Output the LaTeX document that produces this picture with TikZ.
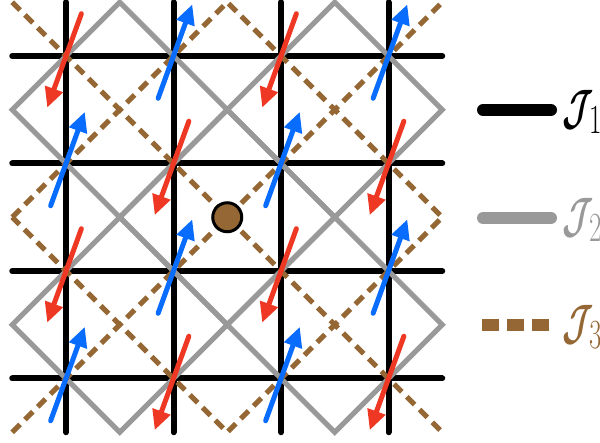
\documentclass[tikz,border=0pt]{standalone}
\usepackage{amsmath}
\usepackage{graphicx}
\usepackage{xcolor}
\usetikzlibrary{arrows.meta}

\definecolor{jgray}{RGB}{153,153,153}
\definecolor{jbrown}{RGB}{148,103,52}
\definecolor{spinred}{RGB}{238,56,36}
\definecolor{spinblue}{RGB}{8,108,255}
\newcommand{\jlab}[1]{\scalebox{0.65}[1]{$\boldsymbol{\mathcal{J}}_{\!#1}$}}

\begin{document}
\begin{tikzpicture}[x=0.5pt, y=-0.5pt, >={Triangle[length=10pt, width=9pt]},
  jone/.style={line width=3pt, line cap=round},
  jtwo/.style={draw=jgray, line width=2.5pt},
  jthree/.style={draw=jbrown, line width=2.5pt, dash pattern=on 5.5pt off 3.5pt},
  spin/.style={->, line width=2.5pt, line cap=round},
  spinup/.style={spin, spinblue}, spindown/.style={spin, spinred},
  dot/.style={circle, draw, line width=1.5pt, fill=jbrown, minimum size=14.5pt, inner sep=0pt},
  lab/.style={anchor=west, inner sep=0pt, font=\fontsize{28}{30}\selectfont}]
\useasboundingbox (0,0) rectangle (600,443);
\foreach \i in {0,...,3} \foreach \j in {0,...,3}
  \coordinate (s-\i-\j) at (66+107.5*\i, 56+107.5*\j);
\foreach \k in {0,...,3} {
  \draw[jone] ([shift={(-53.75,0)}]s-0-\k) -- ([shift={(53.75,0)}]s-3-\k);
  \draw[jone] ([shift={(0,-53.75)}]s-\k-0) -- ([shift={(0,53.75)}]s-\k-3);
}
\foreach \i/\j in {0/0, 2/0, 1/1, 0/2, 2/2}
  \draw[jtwo] ([shift={(-53.75,53.75)}]s-\i-\j) -- ([shift={(53.75,-53.75)}]s-\i-\j)
    -- ([shift={(161.25,53.75)}]s-\i-\j) -- ([shift={(53.75,161.25)}]s-\i-\j) -- cycle;
\draw[jthree] ([shift={(-53.75,-53.75)}]s-0-0) -- ([shift={(53.75,53.75)}]s-3-3);
\draw[jthree] ([shift={(-53.75,53.75)}]s-0-3) -- ([shift={(53.75,-53.75)}]s-3-0);
\draw[jthree] ([shift={(-53.75,53.75)}]s-0-1) -- ([shift={(53.75,-53.75)}]s-1-0)
  -- ([shift={(53.75,53.75)}]s-3-1) -- ([shift={(53.75,53.75)}]s-1-3) -- cycle;
\foreach \i/\j in {0/0, 2/0, 1/1, 3/1, 0/2, 2/2, 1/3, 3/3}
  \draw[spindown] ([shift={(15.4,-42.3)}]s-\i-\j) -- ([shift={(-18.8,51.7)}]s-\i-\j);
\foreach \i/\j in {1/0, 3/0, 0/1, 2/1, 1/2, 3/2, 0/3, 2/3}
  \draw[spinup] ([shift={(-15.4,42.3)}]s-\i-\j) -- ([shift={(18.8,-51.7)}]s-\i-\j);
\node[dot] (c) at (227.25,217.25) {};
\coordinate (l1a) at (483,110); \coordinate (l1b) at (551,110);
\coordinate (l2a) at (483,218); \coordinate (l2b) at (551,218);
\coordinate (l3a) at (482,325); \coordinate (l3b) at (550,325);
\draw[line width=6pt, line cap=round] (l1a) -- (l1b);
\draw[jgray, line width=6pt, line cap=round] (l2a) -- (l2b);
\draw[jbrown, line width=6pt, dash pattern=on 8.5pt off 4pt] (l3a) -- (l3b);
\node[lab] (n1) at (562,112) {\jlab{1}};
\node[lab, text=jgray] (n2) at (562,220) {\jlab{2}};
\node[lab, text=jbrown] (n3) at (562,327) {\jlab{3}};
\end{tikzpicture}
\end{document}
